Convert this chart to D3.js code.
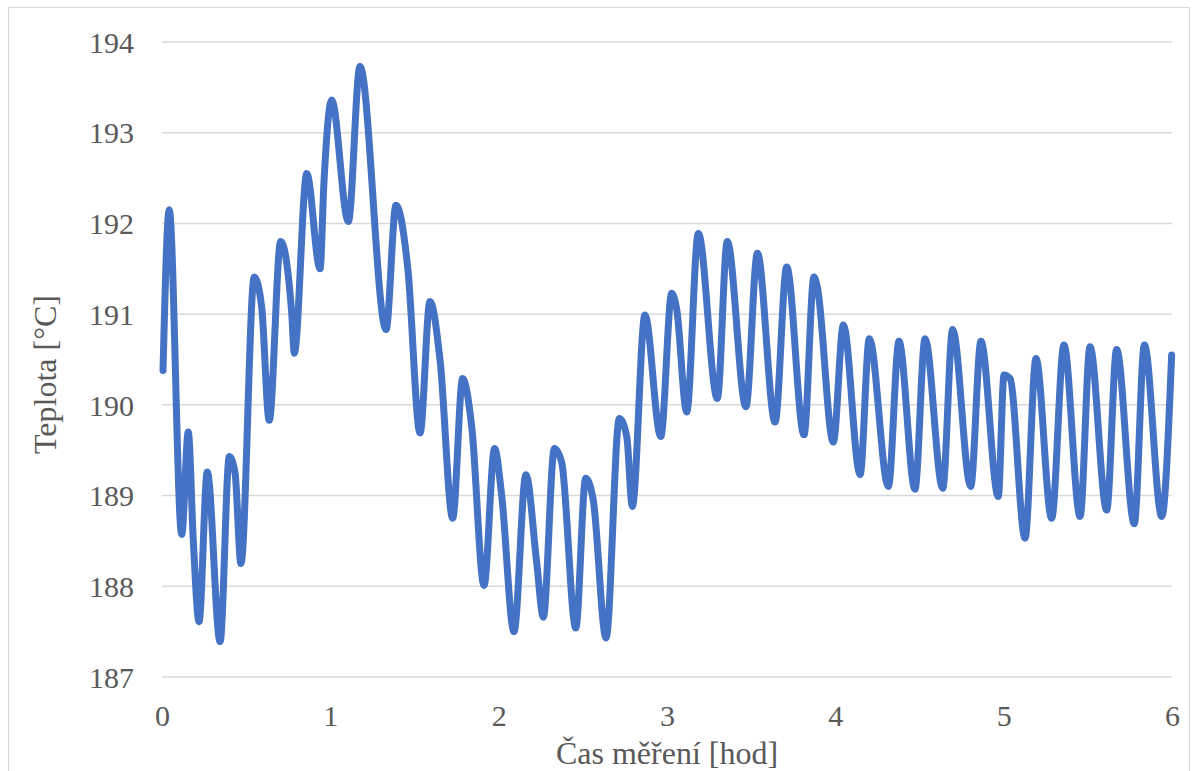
<!DOCTYPE html>
<html>
<head>
<meta charset="utf-8">
<script src="https://cdn.jsdelivr.net/npm/d3@7"></script>
<style>
  html, body { margin: 0; padding: 0; background: #fff; }
  #chart text { font-family: 'Liberation Serif', 'Times New Roman', serif; }
</style>
</head>
<body>
<svg id="chart"></svg>
<script>
// --- Data (hours, °C) ---
const hours = [
  0.006, 0.043, 0.117, 0.156, 0.186, 0.220, 0.269, 0.345, 0.400, 0.434,
  0.469, 0.548, 0.592, 0.637, 0.705, 0.771, 0.786, 0.860, 0.939, 0.962,
  1.008, 1.107, 1.176, 1.331, 1.390, 1.461, 1.533, 1.592, 1.652, 1.727,
  1.786, 1.840, 1.913, 1.976, 2.018, 2.091, 2.162, 2.226, 2.265, 2.331,
  2.375, 2.458, 2.517, 2.562, 2.638, 2.717, 2.761, 2.794, 2.869, 2.963,
  3.028, 3.058, 3.117, 3.186, 3.299, 3.358, 3.469, 3.537, 3.642, 3.711,
  3.814, 3.873, 3.893, 3.988, 4.048, 4.147, 4.202, 4.315, 4.378, 4.473,
  4.533, 4.638, 4.697, 4.804, 4.865, 4.968, 5.002, 5.038, 5.127, 5.192,
  5.285, 5.358, 5.454, 5.513, 5.612, 5.671, 5.776, 5.836, 5.939, 5.998
];
const temps = [
  190.38, 192.15, 188.57, 189.70, 188.50, 187.61, 189.26, 187.39, 189.43, 189.25,
  188.25, 191.41, 191.08, 189.83, 191.80, 191.00, 190.57, 192.55, 191.50, 192.45,
  193.36, 192.02, 193.73, 190.83, 192.20, 191.49, 189.69, 191.14, 190.49, 188.75,
  190.29, 189.76, 188.01, 189.52, 189.00, 187.50, 189.23, 188.26, 187.66, 189.52,
  189.36, 187.54, 189.19, 188.95, 187.43, 189.85, 189.65, 188.88, 190.99, 189.65,
  191.23, 191.05, 189.92, 191.89, 190.07, 191.80, 189.98, 191.67, 189.81, 191.52,
  189.67, 191.41, 191.30, 189.59, 190.88, 189.23, 190.73, 189.10, 190.70, 189.07,
  190.73, 189.08, 190.83, 189.10, 190.70, 188.99, 190.33, 190.29, 188.53, 190.51,
  188.75, 190.66, 188.77, 190.64, 188.84, 190.61, 188.69, 190.66, 188.77, 190.55
];
const xTicks = [0, 1, 2, 3, 4, 5, 6];
const yTicks = [187, 188, 189, 190, 191, 192, 193, 194];
const xTitle = "Čas měření [hod]";
const yTitle = "Teplota [°C]";

const width = 1198;
const height = 771;
const margin = { top: 42, right: 26, bottom: 94, left: 162 };
const font = "'Liberation Serif', 'Times New Roman', serif";
const textColor = "#595959";

const svg = d3.select("#chart")
  .attr("width", width)
  .attr("height", height)
  .style("display", "block");

// --- Outer chart border ---
svg.append("rect")
  .attr("x", 8.5)
  .attr("y", 7.5)
  .attr("width", 1181)
  .attr("height", 800)
  .attr("fill", "#fff")
  .attr("stroke", "#d9d9d9")
  .attr("stroke-width", 1);

const x = d3.scaleLinear()
  .domain([0, 6])
  .range([margin.left, width - margin.right]);

const y = d3.scaleLinear()
  .domain([187, 194])
  .range([height - margin.bottom, margin.top]);

// --- Gridlines ---
svg.append("g")
  .selectAll("line")
  .data(yTicks)
  .join("line")
  .attr("x1", x(0))
  .attr("x2", x(6))
  .attr("y1", d => y(d))
  .attr("y2", d => y(d))
  .attr("stroke", "#d9d9d9")
  .attr("stroke-width", 1.5);

// --- Y axis labels ---
const yAxis = svg.append("g")
  .attr("transform", `translate(${x(0) - 28},0)`)
  .call(d3.axisLeft(y).tickValues(yTicks).tickSize(0).tickPadding(0).tickFormat(d3.format("d")));
yAxis.select(".domain").remove();
yAxis.attr("font-family", font);
yAxis.selectAll("text")
  .style("font-family", font)
  .attr("font-size", "30px")
  .attr("fill", textColor)
  .attr("dy", "0.34em");

// --- X axis labels ---
const xAxis = svg.append("g")
  .attr("transform", `translate(0,${y(187) + 28})`)
  .call(d3.axisBottom(x).tickValues(xTicks).tickSize(0).tickPadding(0).tickFormat(d3.format("d")));
xAxis.select(".domain").remove();
xAxis.attr("font-family", font);
xAxis.selectAll("text")
  .style("font-family", font)
  .attr("font-size", "30px")
  .attr("fill", textColor)
  .attr("dy", "0.71em");

// --- Axis titles ---
svg.append("text")
  .attr("x", (x(0) + x(6)) / 2)
  .attr("y", 764)
  .attr("text-anchor", "middle")
  .attr("font-size", "32px")
  .attr("fill", textColor)
  .text(xTitle);

svg.append("text")
  .attr("transform", `translate(56,${(y(187) + y(194)) / 2 + 15}) rotate(-90)`)
  .attr("text-anchor", "middle")
  .attr("font-size", "32px")
  .attr("fill", textColor)
  .text(yTitle);

// --- Line ---
const points = hours.map((h, i) => [h, temps[i]]);
const line = d3.line()
  .x(d => x(d[0]))
  .y(d => y(d[1]))
  .curve(d3.curveMonotoneX);

svg.append("path")
  .datum(points)
  .attr("d", line)
  .attr("fill", "none")
  .attr("stroke", "#4472C4")
  .attr("stroke-width", 7)
  .attr("stroke-linejoin", "round")
  .attr("stroke-linecap", "round");
</script>
</body>
</html>
